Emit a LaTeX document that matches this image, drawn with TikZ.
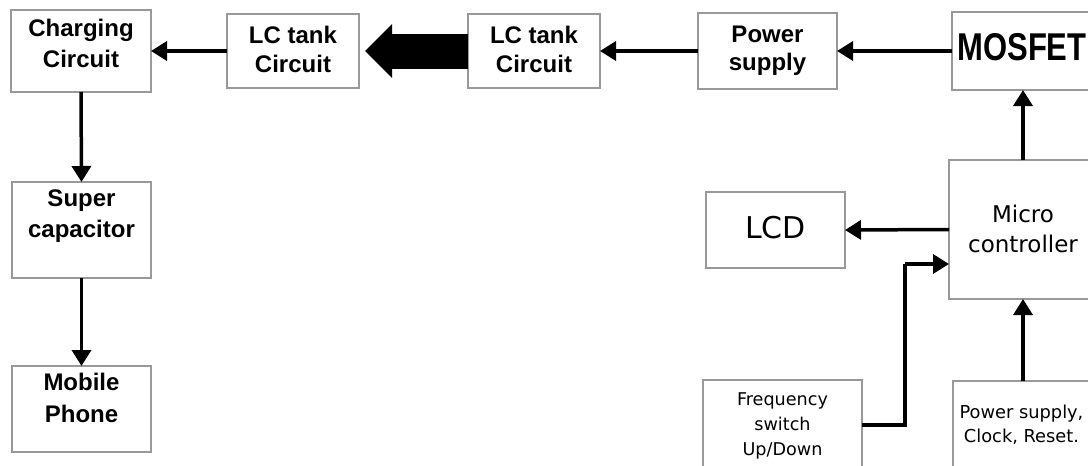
\documentclass[tikz,border=0pt]{standalone}
\usepackage{fontspec}
\setmainfont{Liberation Sans}
\newfontfamily\dvs{DejaVu Sans}
\usetikzlibrary{arrows.meta}
\newcommand\boxlbl[4]{\parbox[c][#2pt][t]{#1pt}{\centering\rule{0pt}{#3pt}#4\par}}
\tikzset{
  blk/.style={draw=black!40, line width=1.1pt, inner sep=0pt, outer sep=0pt, anchor=north west},
  arr/.style={line width=3.5pt, -{Triangle[length=16pt,width=19pt]}},
}
\begin{document}
\begin{tikzpicture}[x=1pt,y=-1pt]
\clip (0,0) rectangle (1088,466);
\fill[white] (0,0) rectangle (1088,466);
% top row
\node[blk, font=\fontsize{24}{31}\selectfont\bfseries] (cc) at (11,10) {\boxlbl{140}{82}{26}{Charging\\Circuit}};
\node[blk, font=\fontsize{24}{29}\selectfont\bfseries] (lc1) at (227,14) {\boxlbl{132}{74}{29}{LC tank\\Circuit}};
\node[blk, font=\fontsize{24}{29}\selectfont\bfseries] (lc2) at (468,14) {\boxlbl{132}{74}{29}{LC tank\\Circuit}};
\node[blk, font=\fontsize{24}{28}\selectfont\bfseries] (ps) at (698,13) {\boxlbl{139}{76}{29}{Power\\supply}};
\node[blk, font=\fontsize{31}{31}\selectfont\bfseries] (mos) at (952,12) {\boxlbl{140}{78}{48}{\scalebox{1}[1.25]{MOSFET}}};
% left column
\node[blk, font=\fontsize{24}{31}\selectfont\bfseries] (sc) at (12,182) {\boxlbl{139}{96}{24}{Super\\capacitor}};
\node[blk, font=\fontsize{24}{32}\selectfont\bfseries] (mp) at (12,366) {\boxlbl{139}{86}{24}{Mobile\\Phone}};
% right side
\node[blk, font=\dvs\fontsize{23}{30}\selectfont] (mc) at (949,160) {\boxlbl{148}{139}{62}{Micro\\controller}};
\node[blk, font=\dvs\fontsize{30}{30}\selectfont] (lcd) at (706,192) {\boxlbl{139}{76}{46}{LCD}};
\node[blk, font=\dvs\fontsize{17.6}{25}\selectfont] (fs) at (703,380) {\boxlbl{159}{90}{25}{Frequency\\switch\\Up/Down}};
\node[blk, font=\dvs\fontsize{17.8}{24}\selectfont] (ps2) at (953,381) {\boxlbl{137}{90}{37}{Power supply,\\Clock, Reset.}};
% connectors
\draw[arr] (lc1.west) -- (cc.east);
\draw[line width=35pt, -{Triangle[length=27pt,width=52pt]}, shorten >=6pt] (lc2.west) -- (lc1.east);
\draw[arr] (ps.west) -- (lc2.east);
\draw[arr] (mos.west) -- (ps.east);
\draw[arr] (cc.south) -- (sc.north);
\draw[arr] (sc.south) -- (mp.north);
\draw[arr] (mc.north) -- (mc.north |- mos.south);
\draw[arr] (mc.west) -- (lcd.east);
\coordinate (fk) at (905,264);
\draw[line width=3.5pt] (fs.east) -| (fk);
\draw[arr] (fk) -- (mc.west |- fk);
\draw[arr] (mc.south |- ps2.north) -- (mc.south);
\end{tikzpicture}
\end{document}
